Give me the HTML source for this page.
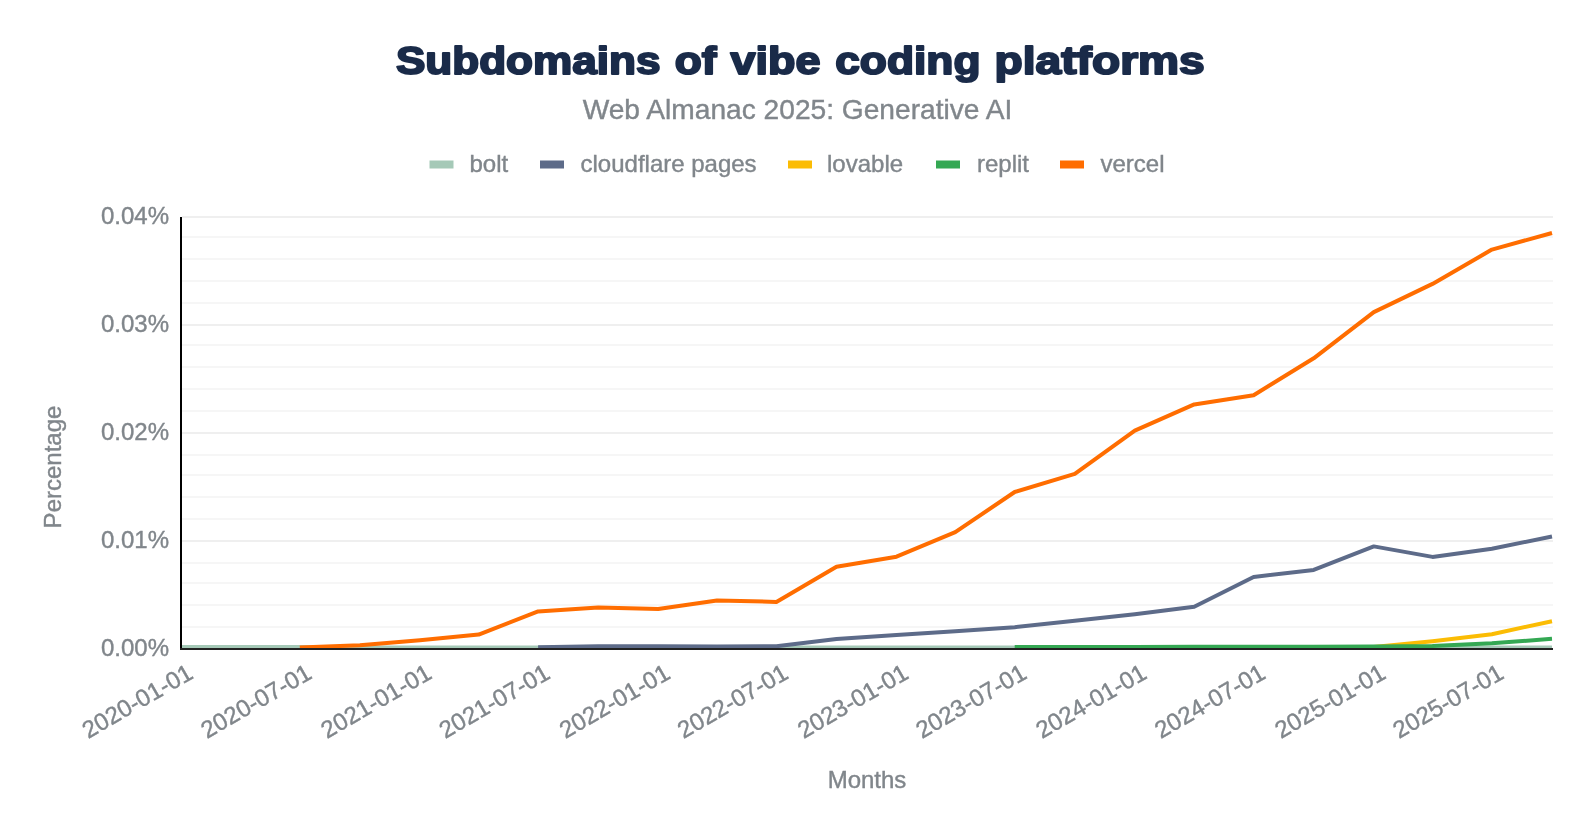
<!DOCTYPE html>
<html><head><meta charset="utf-8">
<style>
html,body{margin:0;padding:0;background:#fff;}
body{width:1594px;height:834px;overflow:hidden;}
svg{display:block;font-family:"Liberation Sans",sans-serif;will-change:transform;}
</style></head><body>
<svg width="1594" height="834" viewBox="0 0 1594 834">
<rect width="1594" height="834" fill="#fff"/>
<g font-size="39" font-weight="bold" fill="#1a2b49" stroke="#1a2b49" stroke-width="2" stroke-linejoin="round"><text x="395.9" y="73.6" textLength="264.6" lengthAdjust="spacingAndGlyphs">Subdomains</text><text x="674.8" y="73.6" textLength="41.7" lengthAdjust="spacingAndGlyphs">of</text><text x="730.6" y="73.6" textLength="89.9" lengthAdjust="spacingAndGlyphs">vibe</text><text x="835.2" y="73.6" textLength="145.3" lengthAdjust="spacingAndGlyphs">coding</text><text x="994.6" y="73.6" textLength="210.2" lengthAdjust="spacingAndGlyphs">platforms</text></g>
<text x="797.5" y="118.5" text-anchor="middle" font-size="28.15" fill="#80868b" stroke="#80868b" stroke-width="0.4">Web Almanac 2025: Generative AI</text>
<g font-size="24" fill="#80868b" stroke="#80868b" stroke-width="0.4">
<rect x="429.5" y="160.5" width="24" height="8" fill="#a5c9b7" stroke="none"/><text x="469.5" y="171.5">bolt</text>
<rect x="540.0" y="160.5" width="24" height="8" fill="#5d6b89" stroke="none"/><text x="580.5" y="171.5">cloudflare pages</text>
<rect x="788.0" y="160.5" width="24" height="8" fill="#fbbc04" stroke="none"/><text x="827.0" y="171.5">lovable</text>
<rect x="936.0" y="160.5" width="24" height="8" fill="#34a853" stroke="none"/><text x="977.0" y="171.5">replit</text>
<rect x="1060.0" y="160.5" width="24" height="8" fill="#ff6d00" stroke="none"/><text x="1100.5" y="171.5">vercel</text>
</g>
<rect x="182" width="1371" y="216" height="2" fill="#efefef"/>
<rect x="182" width="1371" y="236" height="2" fill="#f6f6f6"/>
<rect x="182" width="1371" y="258" height="2" fill="#f6f6f6"/>
<rect x="182" width="1371" y="280" height="2" fill="#f6f6f6"/>
<rect x="182" width="1371" y="302" height="2" fill="#f6f6f6"/>
<rect x="182" width="1371" y="324" height="2" fill="#efefef"/>
<rect x="182" width="1371" y="344" height="2" fill="#f6f6f6"/>
<rect x="182" width="1371" y="366" height="2" fill="#f6f6f6"/>
<rect x="182" width="1371" y="388" height="2" fill="#f6f6f6"/>
<rect x="182" width="1371" y="410" height="2" fill="#f6f6f6"/>
<rect x="182" width="1371" y="432" height="2" fill="#efefef"/>
<rect x="182" width="1371" y="454" height="2" fill="#f6f6f6"/>
<rect x="182" width="1371" y="474" height="2" fill="#f6f6f6"/>
<rect x="182" width="1371" y="496" height="2" fill="#f6f6f6"/>
<rect x="182" width="1371" y="518" height="2" fill="#f6f6f6"/>
<rect x="182" width="1371" y="540" height="2" fill="#efefef"/>
<rect x="182" width="1371" y="562" height="2" fill="#f6f6f6"/>
<rect x="182" width="1371" y="582" height="2" fill="#f6f6f6"/>
<rect x="182" width="1371" y="604" height="2" fill="#f6f6f6"/>
<rect x="182" width="1371" y="626" height="2" fill="#f6f6f6"/>
<g font-size="24" fill="#80868b" stroke="#80868b" stroke-width="0.4">
<text x="169" y="655.5" text-anchor="end">0.00%</text>
<text x="169" y="547.5" text-anchor="end">0.01%</text>
<text x="169" y="439.5" text-anchor="end">0.02%</text>
<text x="169" y="331.5" text-anchor="end">0.03%</text>
<text x="169" y="223.5" text-anchor="end">0.04%</text>
<text transform="translate(194.5 677.5) rotate(-30)" text-anchor="end">2020-01-01</text>
<text transform="translate(313.3 677.5) rotate(-30)" text-anchor="end">2020-07-01</text>
<text transform="translate(433.4 677.5) rotate(-30)" text-anchor="end">2021-01-01</text>
<text transform="translate(551.6 677.5) rotate(-30)" text-anchor="end">2021-07-01</text>
<text transform="translate(671.7 677.5) rotate(-30)" text-anchor="end">2022-01-01</text>
<text transform="translate(789.9 677.5) rotate(-30)" text-anchor="end">2022-07-01</text>
<text transform="translate(910.0 677.5) rotate(-30)" text-anchor="end">2023-01-01</text>
<text transform="translate(1028.2 677.5) rotate(-30)" text-anchor="end">2023-07-01</text>
<text transform="translate(1148.3 677.5) rotate(-30)" text-anchor="end">2024-01-01</text>
<text transform="translate(1267.1 677.5) rotate(-30)" text-anchor="end">2024-07-01</text>
<text transform="translate(1387.3 677.5) rotate(-30)" text-anchor="end">2025-01-01</text>
<text transform="translate(1505.4 677.5) rotate(-30)" text-anchor="end">2025-07-01</text>
<text x="867" y="788" text-anchor="middle">Months</text>
<text transform="translate(61 467) rotate(-90)" text-anchor="middle">Percentage</text>
</g>
<g fill="none" stroke-linejoin="round" stroke-linecap="butt">
<path d="M181.0 646.9 L240.4 646.9 L299.8 646.9 L359.9 647.4 L419.9 647.4 L478.7 647.4 L538.1 647.4 L598.2 647.4 L658.2 647.4 L717.0 647.4 L776.4 647.4 L836.5 647.4 L896.5 647.4 L955.3 647.4 L1014.7 647.4 L1074.8 647.4 L1134.8 647.4 L1194.2 647.4 L1253.6 647.4 L1313.7 647.4 L1373.8 647.4 L1432.5 647.4 L1491.9 647.4 L1552.0 647.4" stroke="#a5c9b7" stroke-width="4"/>
<path d="M538.1 647.3 L598.2 646.3 L658.2 646.3 L717.0 646.5 L776.4 646.3 L836.5 639.0 L896.5 635.0 L955.3 631.2 L1014.7 627.2 L1074.8 620.7 L1134.8 614.2 L1194.2 606.8 L1253.6 577.0 L1313.7 569.9 L1373.8 546.4 L1432.5 556.9 L1491.9 548.8 L1552.0 536.5" stroke="#5d6b89" stroke-width="4"/>
<path d="M1373.8 647.0 L1432.5 641.2 L1491.9 634.2 L1552.0 621.2" stroke="#fbbc04" stroke-width="4"/>
<path d="M1014.7 647.0 L1074.8 647.0 L1134.8 646.9 L1194.2 646.8 L1253.6 646.8 L1313.7 646.7 L1373.8 646.6 L1432.5 645.9 L1491.9 643.3 L1552.0 638.8" stroke="#34a853" stroke-width="4"/>
<path d="M299.8 647.5 L359.9 645.2 L419.9 640.2 L478.7 634.6 L538.1 611.4 L598.2 607.6 L658.2 609.1 L717.0 600.4 L776.4 601.9 L836.5 566.8 L896.5 556.7 L955.3 532.1 L1014.7 492.0 L1074.8 473.9 L1134.8 430.7 L1194.2 404.4 L1253.6 395.3 L1313.7 358.3 L1373.8 312.1 L1432.5 283.9 L1491.9 249.6 L1552.0 233.0" stroke="#ff6d00" stroke-width="4"/>
</g>
<rect x="180" y="217" width="2" height="433" fill="#000"/>
<rect x="180" y="648" width="1373" height="2" fill="#222"/>
</svg>
</body></html>
